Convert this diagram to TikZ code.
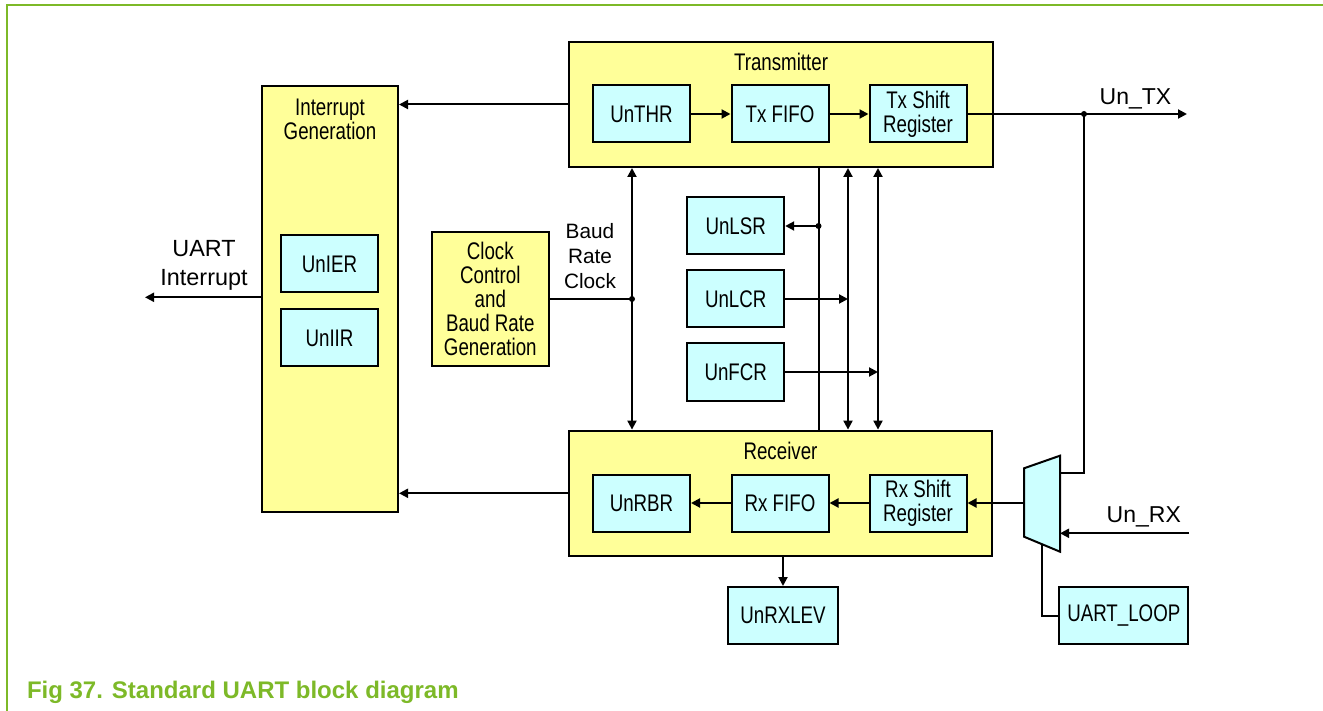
\documentclass[tikz,border=0pt]{standalone}
\usepackage{fontspec}
\setmainfont{Liberation Sans}
\newfontfamily\narrowfont[FakeStretch=0.78]{Liberation Sans}
\usetikzlibrary{arrows.meta, positioning, calc}

\definecolor{blockyellow}{RGB}{255,255,153}
\definecolor{regcyan}{RGB}{204,255,255}
\definecolor{nxpgreen}{RGB}{125,185,40}

\begin{document}
\begin{tikzpicture}[x=0.5pt, y=-0.5pt, line width=1pt,
  every node/.style={inner sep=0pt},
  blockbox/.style={draw, fill=blockyellow},
  narrowlbl/.style={align=center, font=\narrowfont\fontsize{12}{12}\selectfont},
  regbox/.style={draw, fill=regcyan, minimum width=48.5pt, minimum height=28.5pt, narrowlbl},
  sig/.style={-{Triangle[length=4.5pt,width=4.5pt]}},
  bisig/.style={{Triangle[length=4.5pt,width=4.5pt]}-{Triangle[length=4.5pt,width=4.5pt]}}]
\useasboundingbox (0,0) rectangle (1323,711);
% frame
\draw[nxpgreen] (1323,5.5) -- (7,5.5) -- (7,711);

% interrupt generation
\node[blockbox, minimum width=68pt, minimum height=213pt] (intr) at (330,299) {};
\node[narrowlbl] at (330,119) {Interrupt\\Generation};
\node[regbox] (ier) at (329.5,264) {UnIER};
\node[regbox] (iir) at (329.5,338) {UnIIR};
\node[font=\fontsize{11.7}{14.5}\selectfont, align=center] (uartint) at (204,265) {UART\\Interrupt};
\coordinate (intout) at (145,297.3);
\draw[sig] (intr.west |- intout) -- (intout);

% clock
\node[blockbox, narrowlbl, minimum width=58.7pt, minimum height=66.7pt] (clk) at (490.3,299) {Clock\\Control\\and\\Baud Rate\\Generation};
\node[font=\fontsize{10.4}{12.5}\selectfont, align=center] (baudlbl) at (590,256.5) {Baud\\Rate\\Clock};

% transmitter
\node[blockbox, minimum width=212pt, minimum height=62.5pt] (tx) at (781,104.5) {};
\node[narrowlbl] at (781,62) {Transmitter};
\node[regbox] (thr) at (641.5,114) {UnTHR};
\node[regbox] (txfifo) at (780,114) {Tx FIFO};
\node[regbox] (txsh) at (918,114) {Tx Shift\\Register};

% receiver
\node[blockbox, minimum width=211.5pt, minimum height=62.7pt] (rx) at (780.5,493.3) {};
\node[narrowlbl] at (780.5,451) {Receiver};
\node[regbox] (rbr) at (641.5,503) {UnRBR};
\node[regbox] (rxfifo) at (780,503) {Rx FIFO};
\node[regbox] (rxsh) at (918,503) {Rx Shift\\Register};

% registers
\node[regbox] (lsr) at (735.7,226) {UnLSR};
\node[regbox] (lcr) at (735.7,299) {UnLCR};
\node[regbox] (fcr) at (735.7,372) {UnFCR};
\node[regbox, minimum width=55.3pt] (rxlev) at (783,615.5) {UnRXLEV};
\node[regbox, minimum width=64.5pt] (loop) at (1123.8,615.5) {UART\_LOOP};

% data path
\draw[sig] (thr) -- (txfifo);
\draw[sig] (txfifo) -- (txsh);
\draw[sig] (rxsh) -- (rxfifo);
\draw[sig] (rxfifo) -- (rbr);
\draw[sig] (tx.west) -- (tx.west -| intr.east);
\draw[sig] (rx.west) -- (rx.west -| intr.east);
\draw[sig] (rxlev |- rx.south) -- (rxlev.north);

% buses
\coordinate (baudtap) at (632,299);
\draw (clk.east) -- (baudtap);
\draw[bisig] (baudtap |- tx.south) -- (baudtap |- rx.north);
\fill (baudtap) circle (1.5pt);
\coordinate (lsrbus) at (818.5,226);
\draw (lsrbus |- tx.south) -- (lsrbus |- rx.north);
\fill (lsrbus) circle (1.5pt);
\draw[sig] (lsrbus) -- (lsr.east);
\coordinate (lcrbus) at (848,299);
\draw[bisig] (lcrbus |- tx.south) -- (lcrbus |- rx.north);
\draw[sig] (lcr.east) -- (lcrbus);
\coordinate (fcrbus) at (878,372);
\draw[bisig] (fcrbus |- tx.south) -- (fcrbus |- rx.north);
\draw[sig] (fcr.east) -- (fcrbus);

% serial side
\coordinate (txout) at (1187,114);
\coordinate (txtap) at (1084,114);
\draw[sig] (txsh.east) -- (txout);
\fill (txtap) circle (1.5pt);
\node[font=\fontsize{11.5}{12}\selectfont, anchor=base] at (1135.5,104.3) {Un\_TX};
\draw[fill=regcyan] (1024,468.3) -- (1060,455.7) -- (1060,551.7) -- (1024,536.7) -- cycle;
\coordinate (muxout) at (1024,503);
\coordinate (muxloop) at (1060,472.7);
\coordinate (muxrx) at (1060,533.3);
\coordinate (muxsel) at (1041.7,544.1);
\draw (txtap) |- (muxloop);
\draw[sig] (muxout) -- (rxsh.east);
\coordinate (rxin) at (1189,533.3);
\draw[sig] (rxin) -- (muxrx);
\node[font=\fontsize{11.5}{12}\selectfont, anchor=base] at (1143.8,522.7) {Un\_RX};
\draw (muxsel) |- (loop.west);

% caption
\node[anchor=base west, text=nxpgreen, font=\bfseries\fontsize{12}{14}\selectfont] at (26,698.3) {Fig 37. Standard UART block diagram};
\end{tikzpicture}
\end{document}
